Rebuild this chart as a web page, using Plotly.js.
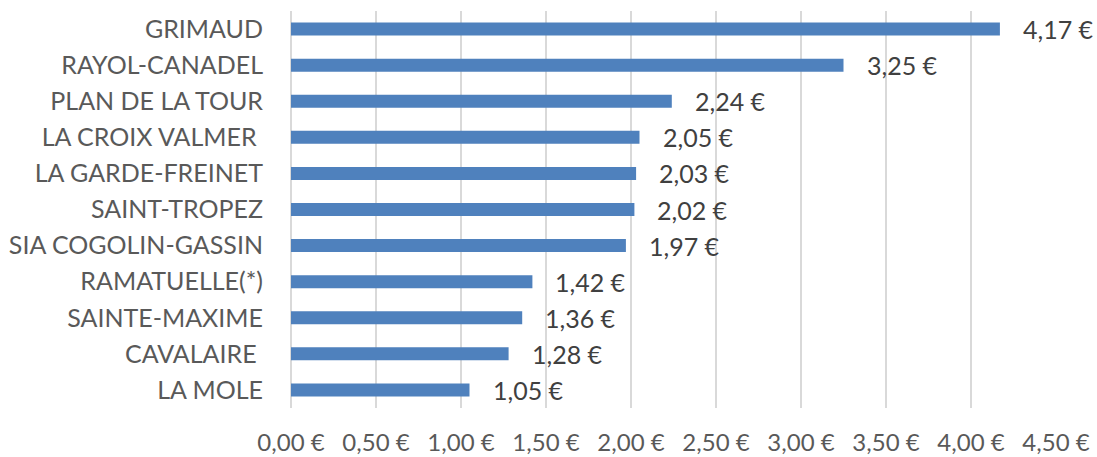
<!DOCTYPE html>
<html><head><meta charset="utf-8">
<script src="https://cdn.plot.ly/plotly-3.0.1.min.js"></script>
<style>html,body{margin:0;padding:0;background:#fff}#chart{width:1097px;height:457px}</style>
</head><body><div id="chart"></div>
<script>
const communes = ["GRIMAUD","RAYOL-CANADEL","PLAN DE LA TOUR","LA CROIX VALMER\u00a0","LA GARDE-FREINET","SAINT-TROPEZ","SIA COGOLIN-GASSIN","RAMATUELLE(*)","SAINTE-MAXIME","CAVALAIRE\u00a0","LA MOLE"];
const prix = [4.17,3.25,2.24,2.05,2.03,2.02,1.97,1.42,1.36,1.28,1.05];
const labels = prix.map(v => v.toFixed(2).replace('.', ',') + ' €');
const FONT = 'Lato, "Open Sans", sans-serif';
const trace = {type:'bar', orientation:'h', x:prix, y:communes,
  marker:{color:'#4F81BD'}, hoverinfo:'none'};
const annotations = prix.map((v,i)=>({x:v, y:communes[i], text:labels[i], showarrow:false,
  xanchor:'left', xshift:21, font:{family:FONT, size:25, color:'#404040'}}));
const layout = {
  width:1097, height:457, margin:{l:291, r:41, t:11, b:49},
  paper_bgcolor:'#fff', plot_bgcolor:'#fff', showlegend:false, bargap:0.64,
  separators:', ',
  font:{family:FONT, size:25, color:'#595959'},
  xaxis:{range:[0,4.5], dtick:0.5, tick0:0, tickformat:'.2f', ticksuffix:' €',
    showgrid:true, gridcolor:'#D9D9D9', gridwidth:1.5, zeroline:true, zerolinecolor:'#D9D9D9', zerolinewidth:1.5,
    showline:false, ticks:'', ticklabelstandoff:18, tickfont:{family:FONT, size:24, color:'#595959'}, fixedrange:true},
  yaxis:{autorange:'reversed', showgrid:false, zeroline:false, showline:false, ticks:'',
    ticklabelstandoff:27, tickfont:{family:FONT, size:25, color:'#595959'}, fixedrange:true},
  annotations:annotations
};
Plotly.newPlot('chart',[trace],layout,{displayModeBar:false, staticPlot:true});
</script></body></html>
